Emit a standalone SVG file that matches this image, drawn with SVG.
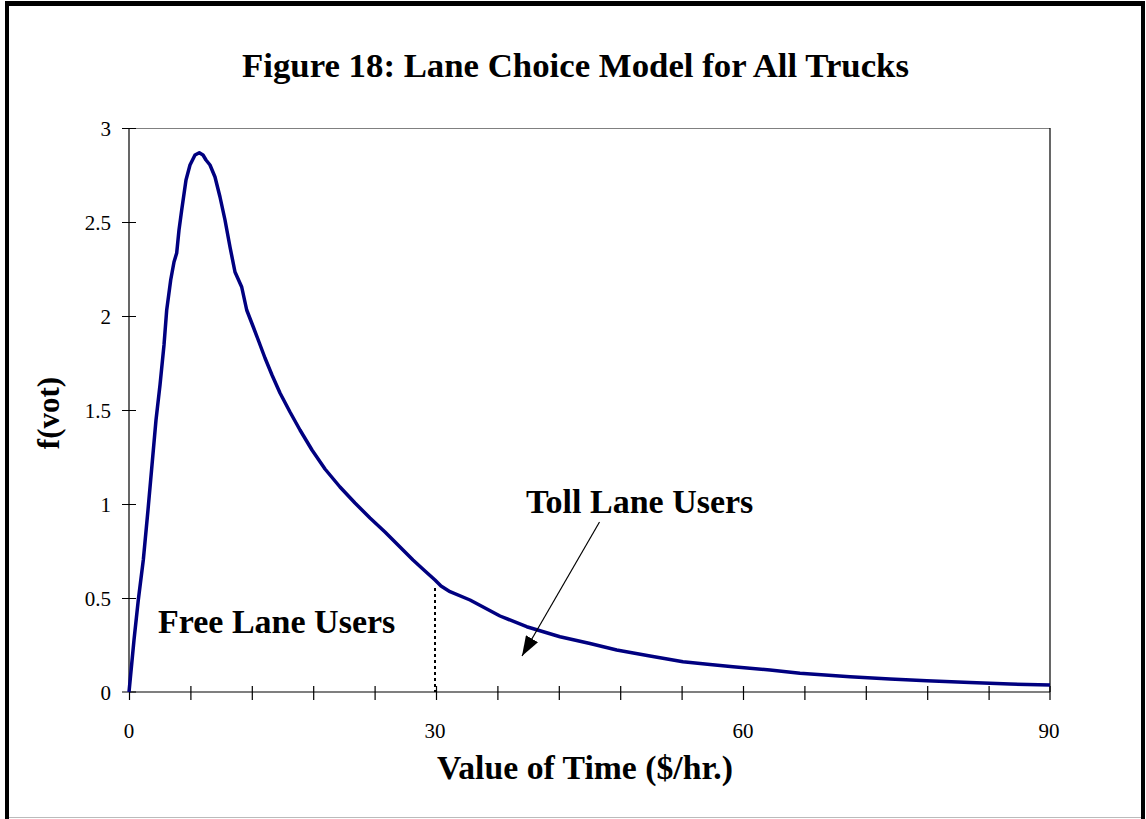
<svg xmlns="http://www.w3.org/2000/svg" width="1146" height="819" viewBox="0 0 1146 819">
<style>
.t{font-family:"Liberation Serif","Times New Roman",serif;fill:#000}
.b{font-weight:bold}
.tick{stroke:#000;stroke-width:1.2}
.lbl{font-size:21px}
</style>
<defs>
<marker id="ah" viewBox="0 0 20 14" refX="20" refY="7" markerWidth="20" markerHeight="14" markerUnits="userSpaceOnUse" orient="auto">
<path d="M0,0 L20,7 L0,14 z" fill="#000"/>
</marker>
</defs>
<rect x="0" y="0" width="1146" height="819" fill="#fff"/>
<g id="frame">
<rect x="5" y="1" width="4" height="818" fill="#000"/>
<rect x="5" y="1" width="1140" height="5" fill="#000"/>
<rect x="1141" y="1" width="4" height="818" fill="#000"/>
<line x1="9" y1="817.5" x2="1141" y2="817.5" stroke="#bbb" stroke-width="1"/>
</g>
<g id="title"><text class="t b" x="575.5" y="77" font-size="33" text-anchor="middle" textLength="667" lengthAdjust="spacingAndGlyphs">Figure 18: Lane Choice Model for All Trucks</text></g>
<g id="plot">
<line x1="129" y1="128.5" x2="1050" y2="128.5" stroke="#808080" stroke-width="1.2"/>
<line x1="1050" y1="128" x2="1050" y2="692" stroke="#000" stroke-width="1.2"/>
<line x1="129" y1="128" x2="129" y2="692" stroke="#000" stroke-width="1.2"/>
<line x1="129" y1="692" x2="1050" y2="692" stroke="#000" stroke-width="1.2"/>
</g>
<g id="yticks">
<path class="tick" d="M122,128.5H136M122,222.5H136M122,316.5H136M122,410.5H136M122,504.5H136M122,598.5H136M122,692H136"/>
<text class="t lbl" x="111" y="135.5" text-anchor="end">3</text>
<text class="t lbl" x="111" y="229.5" text-anchor="end">2.5</text>
<text class="t lbl" x="111" y="323.5" text-anchor="end">2</text>
<text class="t lbl" x="111" y="417.5" text-anchor="end">1.5</text>
<text class="t lbl" x="111" y="511.5" text-anchor="end">1</text>
<text class="t lbl" x="111" y="605.5" text-anchor="end">0.5</text>
<text class="t lbl" x="111" y="699.5" text-anchor="end">0</text>
</g>
<g id="xticks">
<path class="tick" d="M129.5,686V700M190.9,686V700M252.3,686V700M313.7,686V700M375.1,686V700M436.5,686V700M497.9,686V700M559.3,686V700M620.7,686V700M682.1,686V700M743.5,686V700M804.9,686V700M866.3,686V700M927.7,686V700M989.1,686V700M1050,686V700"/>
<text class="t lbl" x="129" y="738" text-anchor="middle">0</text>
<text class="t lbl" x="435" y="738" text-anchor="middle">30</text>
<text class="t lbl" x="743" y="738" text-anchor="middle">60</text>
<text class="t lbl" x="1049" y="738" text-anchor="middle">90</text>
</g>
<g id="axis-titles">
<text class="t b" font-size="31" transform="translate(59,413) rotate(-90)" text-anchor="middle">f(vot)</text>
<text class="t b" x="585" y="779" font-size="33" text-anchor="middle" textLength="296" lengthAdjust="spacingAndGlyphs">Value of Time ($/hr.)</text>
</g>
<g id="curve">
<polyline fill="none" stroke="#000080" stroke-width="3.5" stroke-linejoin="round" points="129,692 134,640 138.3,600 143.3,560 148,510 152,465 156,420 160,385 164,345 166.7,310 170.7,280 174,262 176.7,253 179,230 181.7,210 186,180 190,165 195,155 199.3,152.7 203,155 206,160 210,165 215,177 220,197 225,220 230,247 235,272 241.7,287 246.7,310 253.3,327 259,342 265,358 272,375 280,393 290,412 300,430 312,450 325,469 340,487 355,503 370,518 385,532 400,547 413,560 425,571 435,580 441,586 450,591.7 470,600 500,616 526.7,626.7 560,636.7 590,643.5 616.7,650 650,656 683,661.7 710,664.5 733,666.7 770,670 800,673.3 850,676.7 890,679 926.7,680.7 970,682.5 1010,684 1050,685"/>
</g>
<g id="divider">
<line x1="435" y1="588" x2="435" y2="692" stroke="#000" stroke-width="2" stroke-dasharray="3,3"/>
</g>
<g id="label-free"><text class="t b" x="158" y="633" font-size="34">Free Lane Users</text></g>
<g id="label-toll"><text class="t b" x="526" y="513" font-size="34">Toll Lane Users</text></g>
<g id="connectors">
<line x1="599.5" y1="522" x2="522" y2="656" stroke="#000" stroke-width="1.2" marker-end="url(#ah)"/>
</g>
</svg>
